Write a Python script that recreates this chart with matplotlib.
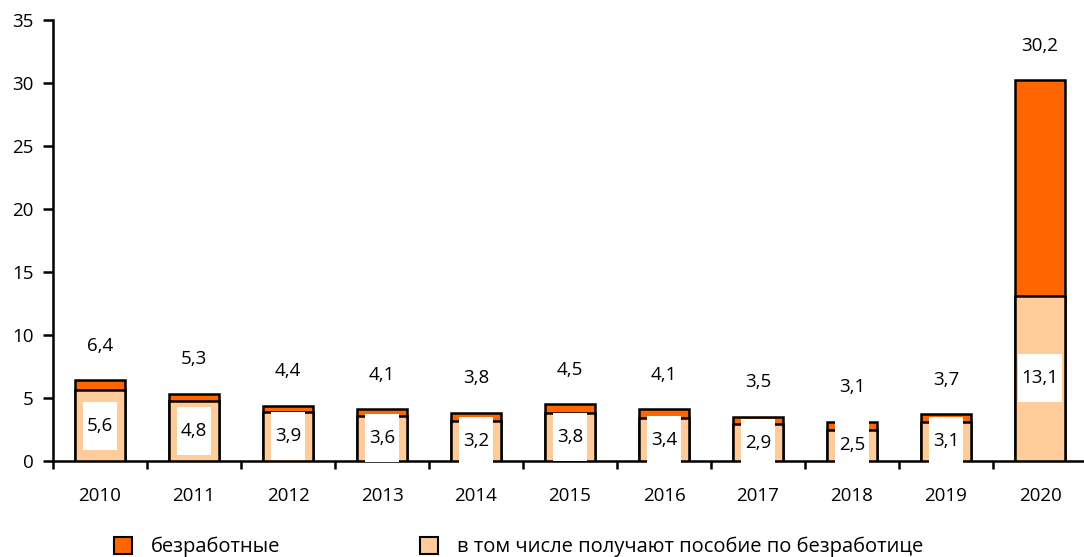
import matplotlib
matplotlib.use("Agg")
import matplotlib.pyplot as plt
from matplotlib.patches import Patch, Rectangle
from matplotlib.transforms import ScaledTranslation
import numpy as np

plt.rcParams['font.family'] = ['Open Sans', 'DejaVu Sans']

years = ["2010", "2011", "2012", "2013", "2014", "2015", "2016", "2017", "2018", "2019", "2020"]
unemployed = [6.4, 5.3, 4.4, 4.1, 3.8, 4.5, 4.1, 3.5, 3.1, 3.7, 30.2]
benefit = [5.6, 4.8, 3.9, 3.6, 3.2, 3.8, 3.4, 2.9, 2.5, 3.1, 13.1]
yticks = [0, 5, 10, 15, 20, 25, 30, 35]

orange = "#FF6600"
peach = "#FFCC99"
FS = 13.5
LFS = 14.5

fig = plt.figure(figsize=(10.84, 5.57), dpi=100)
ax = fig.add_axes([53/1084, 1 - 461/557, (11*94)/1084, (461-20)/557])

x = np.arange(len(years))
w = 0.535
ax.bar(x, unemployed, width=w, color=orange, edgecolor="black", linewidth=1.8, zorder=2)
ax.bar(x, benefit, width=w, color=peach, edgecolor="black", linewidth=1.8, zorder=3)

def fmt(v):
    return f"{v:.1f}".replace(".", ",")

inner = []
for xi, t, b in zip(x, unemployed, benefit):
    ax.annotate(fmt(t), (xi, t), xytext=(0, 25), textcoords="offset points",
                ha="center", va="center", fontsize=FS)
    tx = ax.text(xi, b / 2, fmt(b), ha="center", va="center", fontsize=FS, zorder=7)
    inner.append((xi, b / 2, tx))

ax.set_ylim(0, 35)
ax.set_xlim(-0.5, len(years) - 0.5)
ax.set_yticks(yticks)
ax.set_yticklabels([str(v) for v in yticks], fontsize=FS)
ax.set_xticks(x)
ax.set_xticklabels(years, fontsize=FS)
ax.tick_params(axis="x", length=0, pad=19)
ax.set_xticks(np.arange(len(years) + 1) - 0.5, minor=True)
ax.tick_params(axis="x", which="minor", length=6, width=1.8, direction="out")
ax.tick_params(axis="y", length=7, width=1.8, direction="out", pad=7)
for s in ["top", "right"]:
    ax.spines[s].set_visible(False)
for s in ["left", "bottom"]:
    ax.spines[s].set_linewidth(1.8)

# white boxes behind inner labels (fixed height, width fitted to text)
fig.canvas.draw()
renderer = fig.canvas.get_renderer()
for xi, yc, tx in inner:
    bb = tx.get_window_extent(renderer)
    wpx = bb.width + 7
    hpx = 48
    tr = fig.dpi_scale_trans + ScaledTranslation(xi, yc, ax.transData)
    ax.add_patch(Rectangle((-wpx / 2 / fig.dpi, -hpx / 2 / fig.dpi), wpx / fig.dpi, hpx / fig.dpi,
                           transform=tr, facecolor="white", edgecolor="none", zorder=6, clip_on=False))

handles = [Patch(facecolor=orange, edgecolor="black", linewidth=1.5, label="безработные"),
           Patch(facecolor=peach, edgecolor="black", linewidth=1.5, label="в том числе получают пособие по безработице")]
fig.legend(handles=handles, loc="center left", bbox_to_anchor=(114/1084, 10/557), ncol=2,
           frameon=False, fontsize=LFS, handlelength=0.9, handleheight=0.9,
           columnspacing=6.9, handletextpad=0.95, borderpad=0, borderaxespad=0)

fig.savefig("out.png", dpi=100)
